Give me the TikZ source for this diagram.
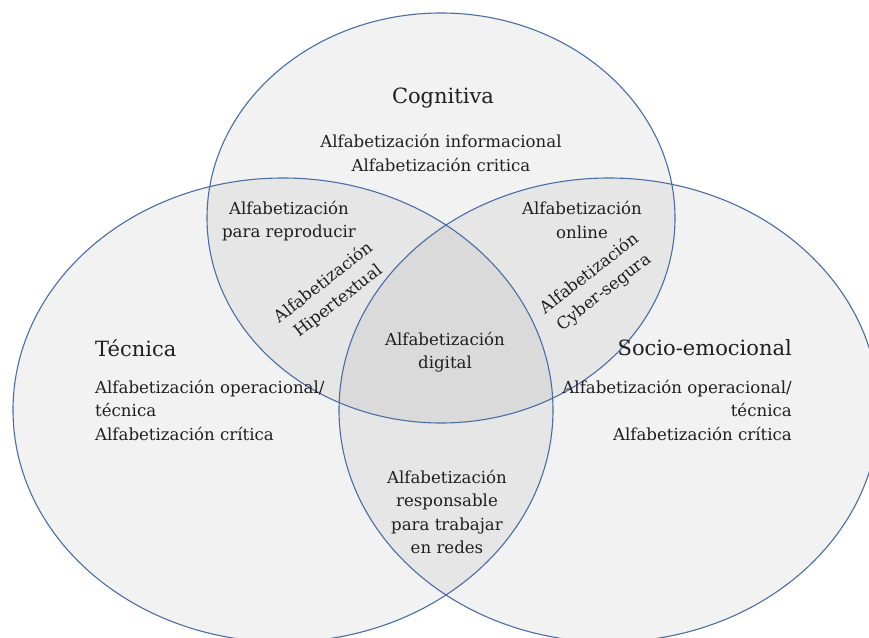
\documentclass[tikz,border=0pt]{standalone}
\usepackage{fontspec}
\setmainfont{DejaVu Serif}
\definecolor{venline}{HTML}{4A6DA7}
\begin{document}
\begin{tikzpicture}[x=1pt,y=-1pt,
  region/.style={fill=black,fill opacity=0.05,draw=none},
  rim/.style={draw=venline,line width=1.1pt},
  lbl/.style={font=\fontsize{16.6}{23.5}\selectfont,text=black!88,inner sep=0pt,align=center},
  ttl/.style={font=\fontsize{21}{24}\selectfont,text=black!88,inner sep=0pt}]
\useasboundingbox (0,0) rectangle (869,637);
\begin{scope}
\clip (0,0) rectangle (869,637);
\fill[region] (441,218) ellipse [x radius=234,y radius=205];
\fill[region] (283,410) ellipse [x radius=270,y radius=232];
\fill[region] (609,410) ellipse [x radius=270,y radius=232];
\draw[rim] (441,218) ellipse [x radius=234,y radius=205];
\draw[rim] (283,410) ellipse [x radius=270,y radius=232];
\draw[rim] (609,410) ellipse [x radius=270,y radius=232];
\end{scope}
\node[ttl] (cog) at (443,98) {Cognitiva};
\node[lbl] (cogt) at (441,153) {Alfabetización informacional\\Alfabetización critica};
\node[lbl] (repr) at (289,221) {Alfabetización\\para reproducir};
\node[lbl] (onl) at (582,220) {Alfabetización\\online};
\node[lbl,rotate=38] (hip) at (331,292) {Alfabetización\\Hipertextual};
\node[lbl,rotate=38] (cyb) at (597,283) {Alfabetización\\Cyber-segura};
\node[lbl] (dig) at (445,352) {Alfabetización\\digital};
\node[ttl,anchor=west] (tec) at (95,348) {Técnica};
\node[lbl,anchor=north west,align=left] (tect) at (95,380) {Alfabetización operacional/\\técnica\\Alfabetización crítica};
\node[ttl,anchor=east] (soc) at (792,348) {Socio-emocional};
\node[lbl,anchor=north east,align=right] (soct) at (792,380) {Alfabetización operacional/\\técnica\\Alfabetización crítica};
\node[lbl] (red) at (447,512) {Alfabetización\\responsable\\para trabajar\\en redes};
\end{tikzpicture}
\end{document}
